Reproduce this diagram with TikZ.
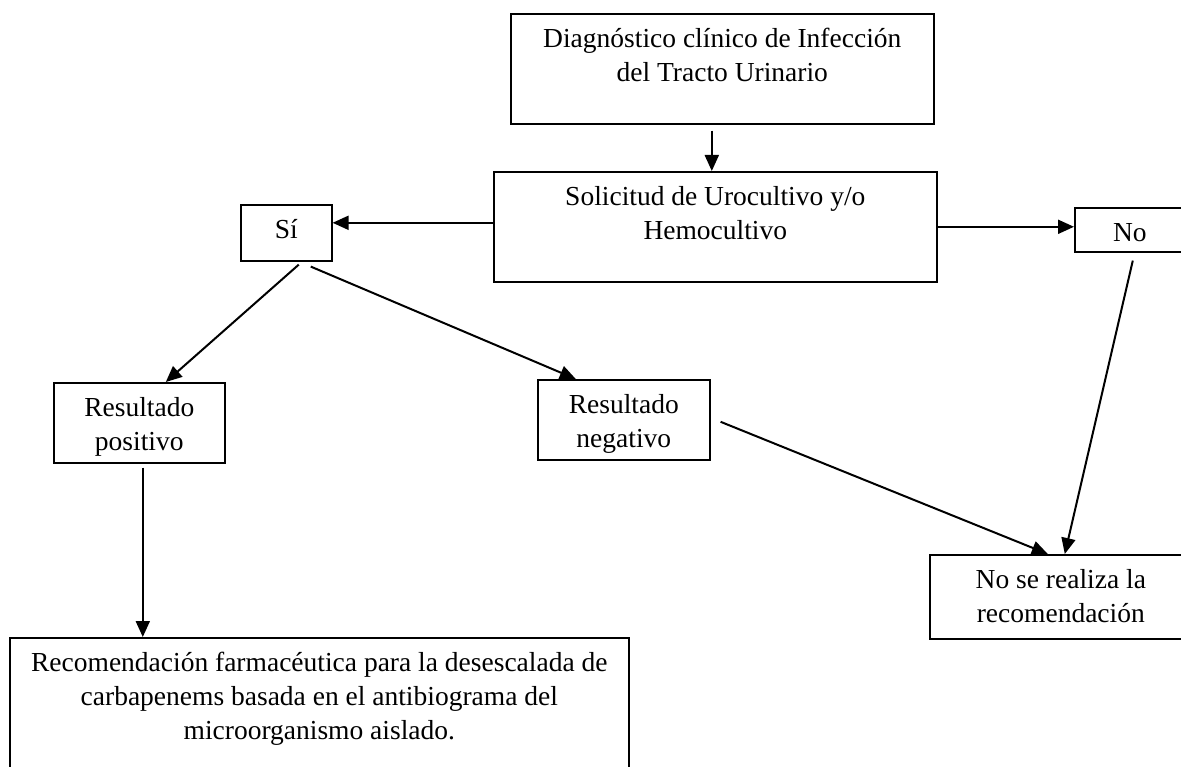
\documentclass[tikz,border=0pt]{standalone}
\usepackage{fontspec}
\setmainfont{Liberation Serif}
\usetikzlibrary{arrows.meta}
\newcommand{\bxt}[3]{\parbox[t][#2][t]{#1}{\centering\rule{0pt}{34pt}#3}}
\tikzset{
  box/.style={draw, line width=1.6pt, inner sep=0pt, anchor=north west,
              font=\fontsize{27.5}{34}\selectfont},
  arr/.style={-{Triangle[length=16pt,width=14pt]}, line width=2pt}
}
\begin{document}
\begin{tikzpicture}[x=1pt,y=-1pt]
\useasboundingbox (0,0) rectangle (1181,767);
\node[box] (top)  at (510,13)  {\bxt{423pt}{110pt}{Diagnóstico clínico de Infección\\del Tracto Urinario}};
\node[box] (sol)  at (493,171) {\bxt{443pt}{110pt}{Solicitud de Urocultivo y/o\\Hemocultivo}};
\node[box] (si)   at (240,204) {\bxt{91pt}{56pt}{Sí}};
\node[box] (no)   at (1074,207) {\bxt{110pt}{44pt}{No}};
\node[box] (pos)  at (53,382)  {\bxt{171pt}{80pt}{Resultado\\positivo}};
\node[box] (neg)  at (537,379) {\bxt{172pt}{80pt}{Resultado\\negativo}};
\node[box] (nose) at (929,554) {\bxt{262pt}{84pt}{No se realiza la\\recomendación}};
\node[box] (rec)  at (9,637)   {\bxt{619pt}{160pt}{Recomendación farmacéutica para la desescalada de\\carbapenems basada en el antibiograma del\\microorganismo aislado.}};

\draw[arr] ([xshift=-10.5pt,yshift=-6pt]top.south) -- ([xshift=-3.5pt]sol.north);
\draw[arr] ([yshift=4pt]sol.west) -- ([yshift=10pt]si.east);
\draw[arr] (sol.east) -- (sol.east -| no.west);
\draw[arr] ([xshift=12.5pt,yshift=-3pt]si.south) -- ([xshift=26.5pt]pos.north);
\draw[arr] ([xshift=24.5pt,yshift=-5pt]si.south) -- ([xshift=-48pt]neg.north);
\coordinate (pr) at ([xshift=3.5pt,yshift=-4pt]pos.south);
\draw[arr] (pr) -- (pr |- rec.north);
\draw[arr] ([xshift=10pt,yshift=-2pt]neg.east) -- ([xshift=-13pt]nose.north);
\draw[arr] ([xshift=3pt,yshift=-8pt]no.south) -- ([xshift=4pt]nose.north);
\end{tikzpicture}
\end{document}
